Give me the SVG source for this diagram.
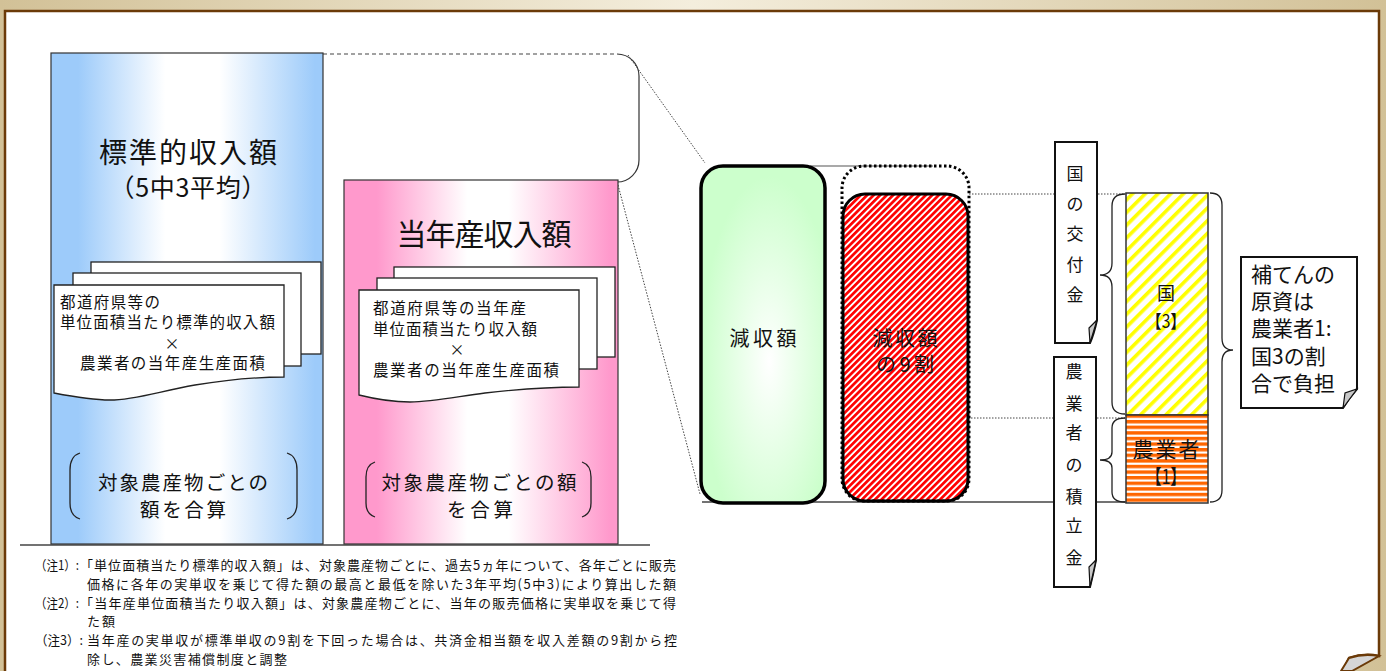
<svg xmlns="http://www.w3.org/2000/svg" width="1386" height="671" viewBox="0 0 1386 671">
<style>
.t{font-family:"Noto Sans CJK JP","Noto Sans",sans-serif;fill:#111;dominant-baseline:central}
.m{text-anchor:middle}
.box{stroke:#333;stroke-width:1.2}
.page{fill:#fff;stroke:#222;stroke-width:1.3}
.br{fill:none;stroke:#222;stroke-width:1.3}
.dot{fill:none;stroke:#444;stroke-width:1;stroke-dasharray:1.5 1.5}
.base{fill:none;stroke:#444;stroke-width:1.5}
.vbox{fill:#fff;stroke:#111;stroke-width:2}
.fold{fill:#c8c8c8;stroke:#111;stroke-width:1.2}
</style>
<defs>
<linearGradient id="bg" x1="0" x2="1" y1="0" y2="0">
<stop offset="0" stop-color="#d2c197"/><stop offset="0.5" stop-color="#f4eedd"/><stop offset="1" stop-color="#d2c197"/>
</linearGradient>
<linearGradient id="gBlue" x1="0" x2="1" y1="0" y2="0">
<stop offset="0" stop-color="#9dcbfa"/><stop offset="0.1" stop-color="#9dcbfa"/><stop offset="0.42" stop-color="#ffffff"/><stop offset="0.62" stop-color="#ffffff"/><stop offset="0.97" stop-color="#9dcbfa"/>
</linearGradient>
<linearGradient id="gPink" x1="0" x2="1" y1="0" y2="0">
<stop offset="0" stop-color="#ff99cc"/><stop offset="0.12" stop-color="#ff99cc"/><stop offset="0.45" stop-color="#ffffff"/><stop offset="0.6" stop-color="#ffffff"/><stop offset="0.97" stop-color="#ff99cc"/>
</linearGradient>
<radialGradient id="gGreen" cx="0.55" cy="0.58" r="0.55">
<stop offset="0" stop-color="#ffffff"/><stop offset="1" stop-color="#ccffcc"/>
</radialGradient>
<pattern id="pRed" patternUnits="userSpaceOnUse" width="4.6" height="4.6" patternTransform="rotate(45)">
<rect width="4.6" height="4.6" fill="#fff"/><rect width="2.7" height="4.6" fill="#ff0000"/>
</pattern>
<pattern id="pYellow" patternUnits="userSpaceOnUse" width="9" height="9" patternTransform="rotate(45)">
<rect width="9" height="9" fill="#fff"/><rect width="3.6" height="9" fill="#ffff00"/>
</pattern>
<pattern id="pOrange" patternUnits="userSpaceOnUse" width="6" height="5.6">
<rect width="6" height="5.6" fill="#fff"/><rect width="6" height="3.4" fill="#ff6600"/>
</pattern>
</defs>

<rect width="1386" height="671" fill="url(#bg)"/>
<path d="M5,690 V11 H1379 V656 Q1364,653 1349,658 L1334,690 Z" fill="#fff" stroke="#6b3a08" stroke-width="2.5"/>
<path d="M1349,658 Q1364,653 1379,656 L1352,671 L1341,671 Z" fill="#d6d6d6" stroke="#6b3a08" stroke-width="2"/>

<g id="connectors">
<path d="M323,54 H617" fill="none" stroke="#444" stroke-width="1.2" stroke-dasharray="4 3"/>
<path d="M617,54 A22,22 0 0 1 639,76 V160 A22,22 0 0 1 617,182" fill="none" stroke="#333" stroke-width="1.2"/>
<path class="dot" d="M628,55 L705,163"/>
<path class="dot" d="M618,185 L700,494"/>
<path class="base" d="M20,545 H650"/>
<path class="base" d="M702,502 H1126"/>
<path d="M810,166 H933" fill="none" stroke="#555" stroke-width="1.2"/>
<path class="dot" d="M969,194 H1126"/>
<path class="dot" d="M968,418 H1126"/>
</g>

<g id="standard-income">
<rect class="box" x="51" y="53" width="272" height="491" fill="url(#gBlue)"/>
<text class="t m" x="188" y="151" font-size="28" textLength="178">標準的収入額</text>
<text class="t m" x="188" y="186" font-size="25" textLength="157">（5中3平均）</text>
<rect class="page" x="91" y="262" width="230" height="92"/>
<rect class="page" x="73" y="273" width="228" height="93"/>
<path class="page" d="M54,285 H284 V377 C262,377 232,379 195,385 C160,391 135,400 110,400 C92,400 75,397 54,393 Z"/>
<text class="t" x="60" y="301" font-size="15.5" textLength="100">都道府県等の</text>
<text class="t" x="60" y="321" font-size="15.5" textLength="215">単位面積当たり標準的収入額</text>
<text class="t m" x="172" y="342" font-size="15">×</text>
<text class="t" x="80" y="362" font-size="15.5" textLength="185">農業者の当年産生産面積</text>
<path class="br" d="M80,453 Q70,456 70,470 L70,503 Q70,516 80,519"/>
<path class="br" d="M287,453 Q297,456 297,470 L297,503 Q297,516 287,519"/>
<text class="t m" x="183" y="481" font-size="19.5" textLength="170">対象農産物ごとの</text>
<text class="t m" x="183" y="508" font-size="19.5" textLength="86">額を合算</text>
</g>

<g id="current-income">
<rect class="box" x="344" y="180" width="274" height="364" fill="url(#gPink)"/>
<text class="t m" x="484" y="232" font-size="30" textLength="175">当年産収入額</text>
<rect class="page" x="394" y="267" width="221" height="90"/>
<rect class="page" x="377" y="278" width="220" height="91"/>
<path class="page" d="M359,290 H579 V387 C555,387 520,389 485,393 C455,397 432,402 410,402 C390,402 375,399 359,395 Z"/>
<text class="t" x="373" y="307" font-size="15.5" textLength="153">都道府県等の当年産</text>
<text class="t" x="373" y="328" font-size="15.5" textLength="164">単位面積当たり収入額</text>
<text class="t m" x="457" y="348" font-size="15">×</text>
<text class="t" x="373" y="369" font-size="15.5" textLength="186">農業者の当年産生産面積</text>
<path class="br" d="M375,462 Q366,465 366,477 L366,503 Q366,514 375,517"/>
<path class="br" d="M582,462 Q591,465 591,477 L591,503 Q591,514 582,517"/>
<text class="t m" x="479" y="481" font-size="19.5" textLength="195">対象農産物ごとの額</text>
<text class="t m" x="480" y="508" font-size="19.5" textLength="66">を合算</text>
</g>

<g id="reduction">
<rect x="701" y="166" width="124" height="337" rx="22" fill="url(#gGreen)" stroke="#000" stroke-width="3.5"/>
<text class="t m" x="763" y="337" font-size="20" textLength="67">減収額</text>
</g>

<g id="reduction-90">
<rect x="843" y="194" width="125" height="307" rx="22" fill="url(#pRed)" stroke="#000" stroke-width="3"/>
<rect x="842" y="166" width="127" height="335" rx="22" fill="none" stroke="#000" stroke-width="3" stroke-dasharray="2.5 2.5"/>
<text class="t m" x="905" y="337" font-size="20" textLength="65">減収額</text>
<text class="t m" x="905" y="363" font-size="20" textLength="58">の9割</text>
</g>

<g id="national-grant-label">
<path class="vbox" d="M1055,142 H1097 V320 Q1094,334 1090,343 H1055 Z"/>
<path class="fold" d="M1097,320 L1090,343 L1089,328 Z"/>
<text class="t m" font-size="17"><tspan x="1075" y="172">国</tspan><tspan x="1075" y="202">の</tspan><tspan x="1075" y="232">交</tspan><tspan x="1075" y="263">付</tspan><tspan x="1075" y="293">金</tspan></text>
</g>

<g id="farmer-reserve-label">
<path class="vbox" d="M1054,357 H1096 V560 Q1093,575 1090,587 H1054 Z"/>
<path class="fold" d="M1096,560 L1090,587 L1089,567 Z"/>
<text class="t m" font-size="17"><tspan x="1074" y="370">農</tspan><tspan x="1074" y="402">業</tspan><tspan x="1074" y="431">者</tspan><tspan x="1074" y="463">の</tspan><tspan x="1074" y="495">積</tspan><tspan x="1074" y="524">立</tspan><tspan x="1074" y="556">金</tspan></text>
</g>

<g id="national-share">
<rect x="1126" y="193" width="82" height="222" fill="url(#pYellow)" stroke="#333" stroke-width="1.5"/>
<text class="t m" x="1166" y="292" font-size="18">国</text>
<text class="t m" x="1166" y="320" font-size="18" textLength="40" lengthAdjust="spacingAndGlyphs">【3】</text>
<path class="br" d="M1125,194 Q1112,194 1112,206 L1112,263 Q1112,275 1100,275 Q1112,275 1112,287 L1112,402 Q1112,414 1125,414"/>
</g>

<g id="farmer-share">
<rect x="1126" y="415" width="82" height="88" fill="url(#pOrange)" stroke="#333" stroke-width="1.5"/>
<text class="t m" x="1166" y="448" font-size="21" textLength="67">農業者</text>
<text class="t m" x="1166" y="475" font-size="20" textLength="40" lengthAdjust="spacingAndGlyphs">【1】</text>
<path class="br" d="M1125,418 Q1112,418 1112,428 L1112,452 Q1112,460 1100,460 Q1112,460 1112,468 L1112,492 Q1112,502 1125,502"/>
</g>

<g id="funding-note">
<path class="br" d="M1210,193 Q1222,193 1222,205 L1222,338 Q1222,350 1233,350 Q1222,350 1222,362 L1222,490 Q1222,502 1210,502"/>
<path class="vbox" d="M1241,257 H1357 V389 Q1349,398 1343,408 H1241 Z"/>
<path class="fold" d="M1357,389 L1343,408 L1345,393 Z"/>
<text class="t" font-size="21"><tspan x="1251" y="273">補てんの</tspan><tspan x="1251" y="300">原資は</tspan><tspan x="1251" y="327">農業者1:</tspan><tspan x="1251" y="355">国3の割</tspan><tspan x="1251" y="382">合で負担</tspan></text>
</g>

<g id="notes">
<text class="t" x="35" y="564" font-size="13" textLength="44" lengthAdjust="spacingAndGlyphs">（注1）:</text>
<text class="t" x="80" y="564" font-size="13" textLength="596">「単位面積当たり標準的収入額」は、対象農産物ごとに、過去5ヵ年について、各年ごとに販売</text>
<text class="t" x="87" y="583" font-size="13" textLength="589">価格に各年の実単収を乗じて得た額の最高と最低を除いた3年平均(5中3)により算出した額</text>
<text class="t" x="35" y="602" font-size="13" textLength="44" lengthAdjust="spacingAndGlyphs">（注2）:</text>
<text class="t" x="80" y="602" font-size="13" textLength="596">「当年産単位面積当たり収入額」は、対象農産物ごとに、当年の販売価格に実単収を乗じて得</text>
<text class="t" x="87" y="620" font-size="13" textLength="28">た額</text>
<text class="t" x="35" y="639" font-size="13" textLength="48" lengthAdjust="spacingAndGlyphs">（注3）:</text>
<text class="t" x="87" y="639" font-size="13" textLength="590">当年産の実単収が標準単収の9割を下回った場合は、共済金相当額を収入差額の9割から控</text>
<text class="t" x="87" y="658" font-size="13" textLength="200">除し、農業災害補償制度と調整</text>
</g>
</svg>
